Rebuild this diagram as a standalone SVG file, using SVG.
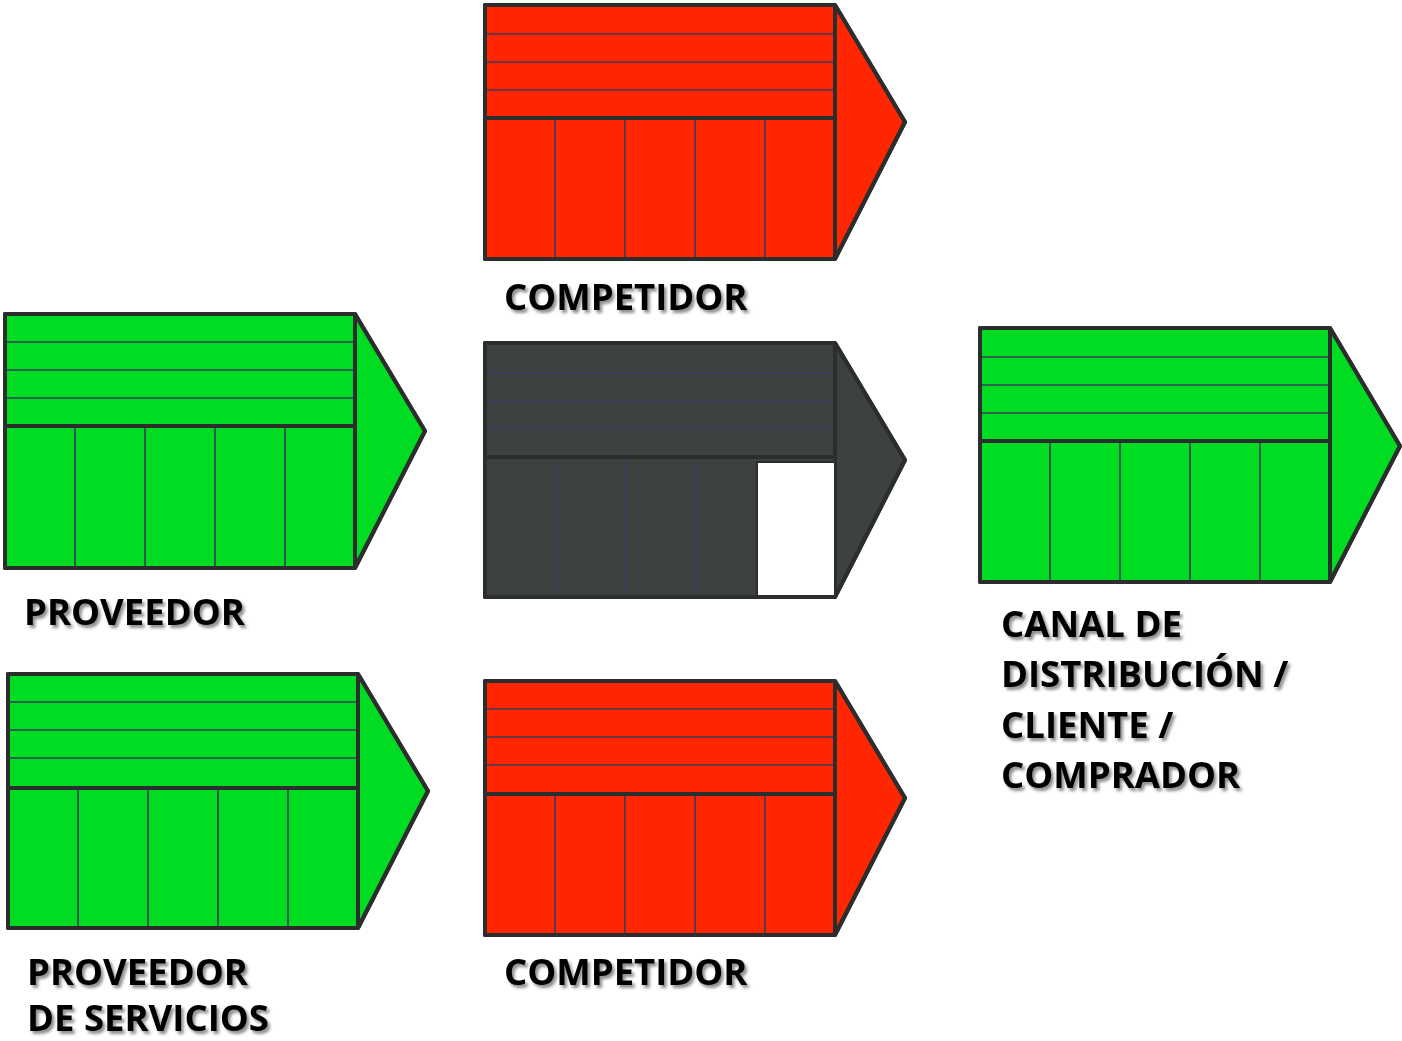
<svg xmlns="http://www.w3.org/2000/svg" width="1402" height="1041" viewBox="0 0 1402 1041">
<style>
.body{stroke:#2b2e2c;stroke-width:4;stroke-linejoin:round}
.thin{stroke:#3b3b5c;stroke-width:1.6;fill:none}
.thick{stroke:#2b2e2c;stroke-width:4;fill:none}
.red{fill:#ff2600}
.green{fill:#00dc22}
.dark{fill:#3d4240}
.lbl{font-family:"Open Sans","Liberation Sans",sans-serif;font-weight:bold;font-size:36.5px;fill:#000;filter:url(#sh)}
</style>
<defs>
<filter id="sh" x="-10%" y="-30%" width="130%" height="170%">
<feDropShadow dx="2.5" dy="3" stdDeviation="1.8" flood-color="#000" flood-opacity="0.45"/>
</filter>
</defs>
<g id="competidor-top" transform="translate(485,5)">
<path class="body red" d="M0 0H350L420 117L350 254H0Z"/>
<path class="thin" d="M0 29H350M0 57H350M0 85H350M70 113V254M140 113V254M210 113V254M280 113V254"/>
<path class="thick" d="M0 113H350M350 0V254"/>
<path class="body" fill="none" d="M0 0H350L420 117L350 254H0Z"/>
</g>
<g id="empresa" transform="translate(485,343)">
<path class="body dark" d="M0 0H350L420 117L350 254H0Z"/>
<path class="thin" d="M0 30H350M0 58H350M0 85H350M70 114V254M140 114V254M210 114V254M280 114V119"/>
<path class="thick" d="M0 114H350M350 0V254"/>
<rect x="272" y="119" width="78" height="135" fill="#fff" stroke="#2b2e2c" stroke-width="2"/>
<path class="body" fill="none" d="M0 0H350L420 117L350 254H0Z"/>
</g>
<g id="proveedor" transform="translate(5,314)">
<path class="body green" d="M0 0H350L420 117L350 254H0Z"/>
<path class="thin" d="M0 28H350M0 56H350M0 84H350M70 112V254M140 112V254M210 112V254M280 112V254"/>
<path class="thick" d="M0 112H350M350 0V254"/>
<path class="body" fill="none" d="M0 0H350L420 117L350 254H0Z"/>
</g>
<g id="proveedor-servicios" transform="translate(8,674)">
<path class="body green" d="M0 0H350L420 117L350 254H0Z"/>
<path class="thin" d="M0 28H350M0 56H350M0 84H350M70 114V254M140 114V254M210 114V254M280 114V254"/>
<path class="thick" d="M0 114H350M350 0V254"/>
<path class="body" fill="none" d="M0 0H350L420 117L350 254H0Z"/>
</g>
<g id="competidor-bottom" transform="translate(485,681)">
<path class="body red" d="M0 0H350L420 117L350 254H0Z"/>
<path class="thin" d="M0 28H350M0 56H350M0 84H350M70 113V254M140 113V254M210 113V254M280 113V254"/>
<path class="thick" d="M0 113H350M350 0V254"/>
<path class="body" fill="none" d="M0 0H350L420 117L350 254H0Z"/>
</g>
<g id="canal" transform="translate(980,328)">
<path class="body green" d="M0 0H350L420 118L350 254H0Z"/>
<path class="thin" d="M0 29H350M0 57H350M0 85H350M70 113V254M140 113V254M210 113V254M280 113V254"/>
<path class="thick" d="M0 113H350M350 0V254"/>
<path class="body" fill="none" d="M0 0H350L420 118L350 254H0Z"/>
</g>
<g id="labels">
<text class="lbl" x="504" y="310">COMPETIDOR</text>
<text class="lbl" x="24" y="625">PROVEEDOR</text>
<text class="lbl" x="1001" y="637">CANAL DE</text>
<text class="lbl" x="1001" y="687">DISTRIBUCIÓN /</text>
<text class="lbl" x="1001" y="738">CLIENTE /</text>
<text class="lbl" x="1001" y="788">COMPRADOR</text>
<text class="lbl" x="27" y="985">PROVEEDOR</text>
<text class="lbl" x="27" y="1031">DE SERVICIOS</text>
<text class="lbl" x="504" y="985">COMPETIDOR</text>
</g>
</svg>
